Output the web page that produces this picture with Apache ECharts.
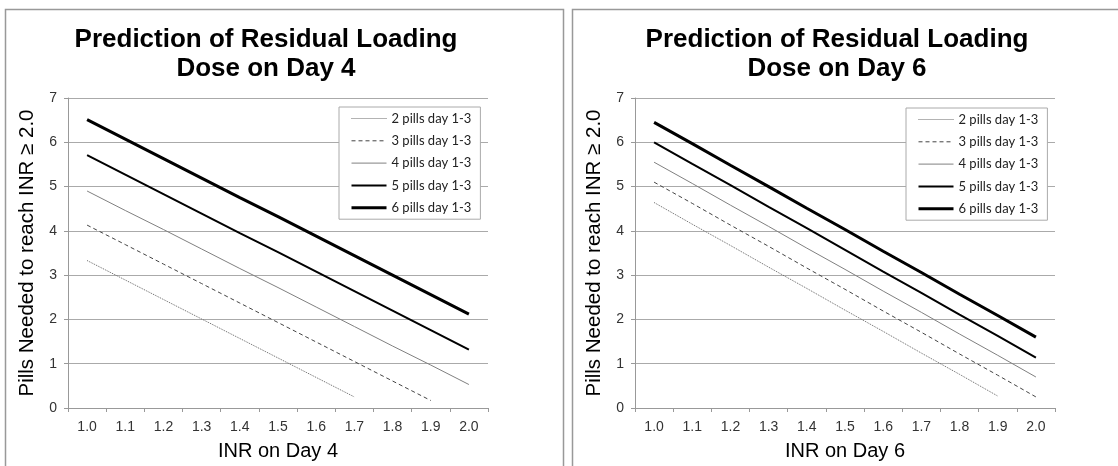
<!DOCTYPE html>
<html>
<head>
<meta charset="utf-8">
<script src="https://cdn.jsdelivr.net/npm/echarts@6/dist/echarts.min.js"></script>
<style>
  html, body { margin: 0; padding: 0; background: #fff; }
  #chart { width: 1118px; height: 466px; }
</style>
</head>
<body>
<div id="chart"></div>
<script>
var inr = ['1.0', '1.1', '1.2', '1.3', '1.4', '1.5', '1.6', '1.7', '1.8', '1.9', '2.0'];
var names = ['2 pills day 1-3', '3 pills day 1-3', '4 pills day 1-3', '5 pills day 1-3', '6 pills day 1-3'];

// day 4
var d4p2 = [3.33, 2.89, 2.45, 2.01, 1.57, 1.13, 0.69, 0.25];
var d4p3 = [4.13, 3.69, 3.25, 2.81, 2.37, 1.93, 1.49, 1.05, 0.61, 0.17];
var d4p4 = [4.90, 4.46, 4.03, 3.59, 3.15, 2.72, 2.28, 1.84, 1.40, 0.97, 0.53];
var d4p5 = [5.71, 5.27, 4.83, 4.39, 3.95, 3.52, 3.08, 2.64, 2.20, 1.76, 1.32];
var d4p6 = [6.51, 6.07, 5.63, 5.19, 4.75, 4.32, 3.88, 3.44, 3.00, 2.56, 2.12];

// day 6
var d6p2 = [4.64, 4.15, 3.67, 3.18, 2.70, 2.21, 1.73, 1.24, 0.76, 0.27];
var d6p3 = [5.10, 4.62, 4.13, 3.65, 3.16, 2.68, 2.19, 1.71, 1.22, 0.74, 0.25];
var d6p4 = [5.55, 5.07, 4.58, 4.10, 3.61, 3.13, 2.64, 2.16, 1.67, 1.19, 0.70];
var d6p5 = [6.00, 5.51, 5.03, 4.54, 4.06, 3.57, 3.08, 2.60, 2.11, 1.63, 1.14];
var d6p6 = [6.45, 5.97, 5.48, 5.00, 4.51, 4.03, 3.54, 3.06, 2.57, 2.09, 1.60];

var yTicks = [0, 7, 1];

var myChart = echarts.init(document.getElementById('chart'));

// line look per pill count
var styles = [
	{ color: '#666', width: 1, type: 'dotted' },
	{ color: '#444', width: 1, type: [4, 3] },
	{ color: '#808080', width: 1, type: 'solid' },
	{ color: '#000', width: 2, type: 'solid' },
	{ color: '#000', width: 3, type: 'solid' }
];

function xAxisOf(idx, name) {
	return {
		type: 'category',
		gridIndex: idx,
		data: inr,
		name: name,
		nameLocation: 'middle',
		nameGap: 33,
		nameTextStyle: { color: '#000', fontSize: 20, fontFamily: 'Liberation Sans' },
		axisLine: { lineStyle: { color: '#999', width: 1 } },
		axisTick: { show: true, length: 4, lineStyle: { color: '#999' } },
		axisLabel: { color: '#333', fontSize: 14, margin: 12, fontFamily: 'Liberation Sans', interval: 0 },
		splitLine: { show: false }
	};
}

function yAxisOf(idx) {
	return {
		type: 'value',
		gridIndex: idx,
		min: yTicks[0],
		max: yTicks[1],
		interval: yTicks[2],
		name: 'Pills Needed to reach INR \u2265 2.0',
		nameLocation: 'middle',
		nameGap: 30,
		nameRotate: 90,
		nameTextStyle: { color: '#000', fontSize: 20.5, fontFamily: 'Liberation Sans' },
		axisLine: { show: true, lineStyle: { color: '#999', width: 1 } },
		axisTick: { show: true, length: 4, lineStyle: { color: '#999' } },
		axisLabel: { color: '#333', fontSize: 14, margin: 11, fontFamily: 'Liberation Sans' },
		splitLine: { show: true, lineStyle: { color: '#aaa', width: 1 } }
	};
}

function legendOf(left, top, idx) {
	var suffix = idx ? ' ' : '';
	return {
		orient: 'vertical',
		left: left,
		top: top,
		data: names.map(function(n) { return n + suffix; }),
		formatter: function(n) { return n.trim(); },
		itemWidth: 35,
		itemHeight: 14,
		itemGap: 9.3,
		padding: [5, 9, 5, 11],
		borderColor: '#aaa',
		borderWidth: 1,
		backgroundColor: '#fff',
		selectedMode: false,
		itemStyle: { opacity: 0 },
		lineStyle: { width: 'inherit', type: 'inherit' },
		textStyle: { color: '#222', fontSize: 13, fontFamily: 'Lato' }
	};
}

var sets = [[d4p2, d4p3, d4p4, d4p5, d4p6], [d6p2, d6p3, d6p4, d6p5, d6p6]];
var series = [];
for (var g = 0; g < 2; g++) {
	for (var i = 0; i < 5; i++) {
		series.push({
			name: names[i] + (g ? ' ' : ''),
			type: 'line',
			xAxisIndex: g,
			yAxisIndex: g,
			data: sets[g][i],
			symbol: 'none',
			silent: true,
			lineStyle: { color: styles[i].color, width: styles[i].width, type: styles[i].type },
			itemStyle: { color: styles[i].color }
		});
	}
}

var titleFont = { color: '#000', fontSize: 26, fontWeight: 'bold', lineHeight: 29, fontFamily: 'Liberation Sans' };

var option = {
	animation: false,
	backgroundColor: '#fff',
	title: [{
		text: 'Prediction of Residual Loading\nDose on Day 4',
		left: 266,
		top: 25,
		textAlign: 'center',
		padding: 0,
		textStyle: titleFont
	}, {
		text: 'Prediction of Residual Loading\nDose on Day 6',
		left: 837,
		top: 25,
		textAlign: 'center',
		padding: 0,
		textStyle: titleFont
	}],
	legend: [legendOf(339, 107, 0), legendOf(906, 108, 1)],
	grid: [
		{ left: 68, top: 98, width: 420, height: 311 },
		{ left: 635, top: 98, width: 420, height: 311 }
	],
	xAxis: [xAxisOf(0, 'INR on Day 4'), xAxisOf(1, 'INR on Day 6')],
	yAxis: [yAxisOf(0), yAxisOf(1)],
	graphic: [
		{ type: 'rect', shape: { x: 5.5, y: 9.5, width: 558, height: 500 }, style: { fill: 'none', stroke: '#999', lineWidth: 1.5 }, z: -1 },
		{ type: 'rect', shape: { x: 572.5, y: 9.5, width: 600, height: 500 }, style: { fill: 'none', stroke: '#999', lineWidth: 1.5 }, z: -1 }
	],
	series: series
};

myChart.setOption(option, true);
</script>
</body>
</html>
